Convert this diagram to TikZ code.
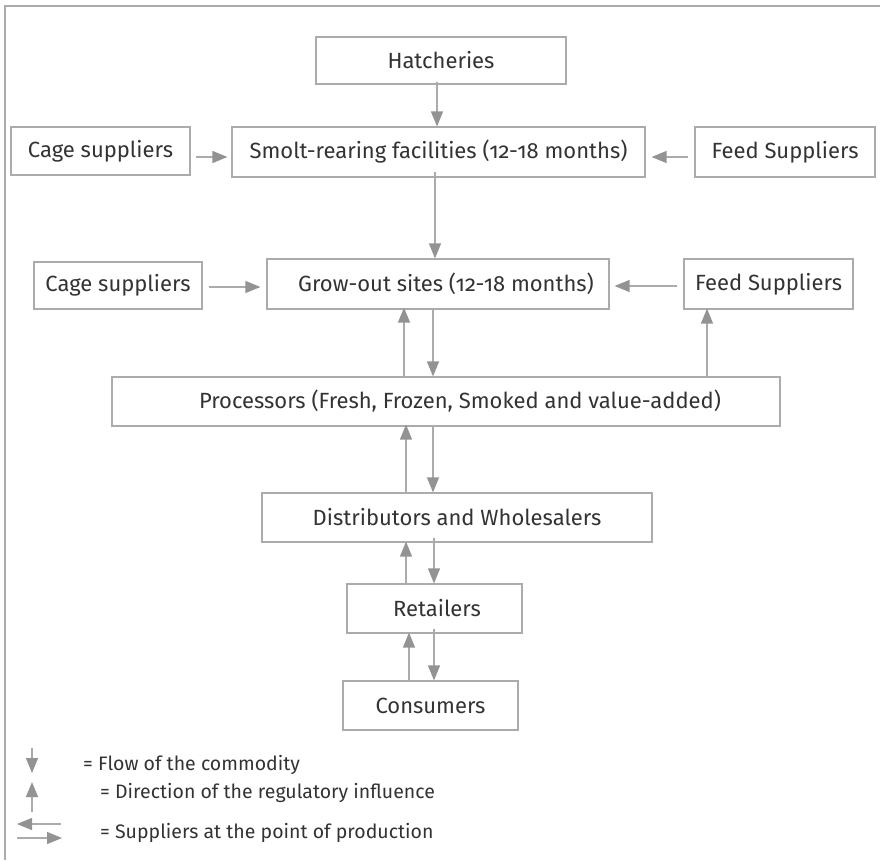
\documentclass[tikz,border=0pt]{standalone}
\usepackage{fontspec}
\setmainfont{Fira Sans}[Numbers=OldStyle]
\usetikzlibrary{arrows.meta}
\definecolor{linegray}{HTML}{ABABAB}
\definecolor{tipgray}{HTML}{939393}
\definecolor{txtgray}{HTML}{333333}
\tikzset{
  box/.style={draw=linegray, line width=1.2pt, fill=white, text=txtgray,
    font=\fontsize{22}{26}\selectfont, inner sep=0pt, anchor=center},
  flow/.style={draw=linegray, line width=1.3pt,
    -{Triangle[length=15pt,width=12pt,color=tipgray]}},
  legtext/.style={text=txtgray, font=\fontsize{19.5}{23}\selectfont, anchor=west, inner sep=0pt},
  frame/.style={draw=linegray, line width=1.5pt}
}
\begin{document}
\begin{tikzpicture}[x=1pt,y=-1pt]
\useasboundingbox (0,0) rectangle (880,860);
% frame
\coordinate (ftr) at (880,6);
\coordinate (ftl) at (5,6);
\coordinate (fbl) at (5,860);
\draw[frame] (ftr) -- (ftl) -- (fbl);
% boxes
\node[box, minimum width=250pt, minimum height=47pt] (hatch) at (441,60.5) {Hatcheries};
\node[box, minimum width=413pt, minimum height=50pt] (smolt) at (438.5,152) {Smolt-rearing facilities (12-18 months)};
\node[box, minimum width=179pt, minimum height=48pt] (cage1) at (100.5,151) {Cage suppliers};
\node[box, minimum width=180pt, minimum height=50pt] (feed1) at (785,152) {Feed Suppliers};
\node[box, minimum width=168pt, minimum height=47pt] (cage2) at (118,285.5) {Cage suppliers};
\node[box, minimum width=342pt, minimum height=50pt] (grow) at (438,284) {\hspace{16pt}Grow-out sites (12-18 months)};
\node[box, minimum width=169pt, minimum height=50pt] (feed2) at (768.5,284) {Feed Suppliers};
\node[box, minimum width=668pt, minimum height=49pt] (proc) at (446,401.5) {\hspace{28pt}Processors (Fresh, Frozen, Smoked and value-added)};
\node[box, minimum width=390pt, minimum height=49pt] (dist) at (457,517.5) {Distributors and Wholesalers};
\node[box, minimum width=175pt, minimum height=49pt] (ret) at (434.5,608.5) {\hspace{5pt}Retailers};
\node[box, minimum width=175pt, minimum height=49pt] (cons) at (430.5,705.5) {Consumers};
% connectors
\draw[flow] ([yshift=3pt]437,0 |- hatch.south) -- (437,0 |- smolt.north);
\draw[flow] ([xshift=5pt]cage1.east |- 0,157) -- ([xshift=-4pt]smolt.west |- 0,157);
\draw[flow] ([xshift=-6pt]feed1.west |- 0,157) -- ([xshift=6pt]smolt.east |- 0,157);
\draw[flow] ([yshift=6pt]435,0 |- smolt.south) -- (435,0 |- grow.north);
\draw[flow] ([xshift=6pt]cage2.east |- 0,287) -- ([xshift=-6pt]grow.west |- 0,287);
\draw[flow] ([xshift=-6pt]feed2.west |- 0,286) -- ([xshift=5pt]grow.east |- 0,286);
\draw[flow] (404,0 |- proc.north) -- ([yshift=2pt]404,0 |- grow.south);
\draw[flow] (433,0 |- grow.south) -- (433,0 |- proc.north);
\draw[flow] (707,0 |- proc.north) -- ([yshift=1pt]707,0 |- feed2.south);
\draw[flow] (406,0 |- dist.north) -- ([yshift=2pt]406,0 |- proc.south);
\draw[flow] ([yshift=2pt]433,0 |- proc.south) -- (433,0 |- dist.north);
\draw[flow] (406,0 |- ret.north) -- ([yshift=1pt]406,0 |- dist.south);
\draw[flow] ([yshift=5pt]434,0 |- dist.south) -- (434,0 |- ret.north);
\draw[flow] (409,0 |- cons.north) -- ([yshift=1pt]409,0 |- ret.south);
\draw[flow] ([yshift=5pt]434,0 |- ret.south) -- (434,0 |- cons.north);
% legend
\coordinate (l1a) at (32,748); \coordinate (l1b) at (32,773);
\coordinate (l2a) at (32,812); \coordinate (l2b) at (32,782);
\coordinate (l3a) at (61,824); \coordinate (l3b) at (17,824);
\coordinate (l4a) at (17,838); \coordinate (l4b) at (62,838);
\draw[flow] (l1a) -- (l1b);
\draw[flow] (l2a) -- (l2b);
\draw[flow] (l3a) -- (l3b);
\draw[flow] (l4a) -- (l4b);
\node[legtext] (t1) at (83,765) {= Flow of the commodity};
\node[legtext] (t2) at (100,793) {= Direction of the regulatory influence};
\node[legtext] (t3) at (100,833) {= Suppliers at the point of production};
\end{tikzpicture}
\end{document}
